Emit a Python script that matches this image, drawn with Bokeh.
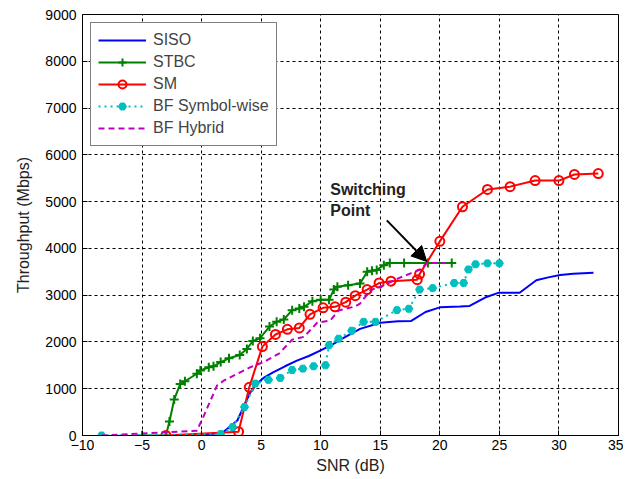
from bokeh.plotting import figure
from bokeh.models import (Range1d, FixedTicker, Arrow, NormalHead, Label, Legend)
from bokeh.embed import file_html
from bokeh.resources import INLINE

# ---- data ----
siso_x = [0, 1.8, 3.0, 3.7, 4.1, 4.6, 5.2, 6, 7, 8, 9, 10, 11, 12, 13.3, 15, 16.5,
          17.6, 18.8, 20, 21.7, 22.5, 23.8, 24.9, 26.7, 28.1, 29.1, 30.1, 31.2, 32.9]
siso_y = [0, 70, 320, 710, 930, 1100, 1230, 1350, 1480, 1600, 1700, 1820, 1950, 2100,
          2280, 2410, 2440, 2450, 2640, 2740, 2760, 2770, 2950, 3050, 3050, 3320,
          3380, 3430, 3460, 3480]

stbc_x = [-5, -3, -2.7, -2.3, -1.8, -1.4, -0.4, -0.1, 0.6, 1.0, 1.6, 2.3, 3.2, 3.8,
          4.3, 4.9, 5.7, 6.3, 6.9, 7.6, 8.2, 8.6, 9.3, 10, 10.7, 11.1, 11.4, 12.3,
          13.3, 13.9, 14.3, 14.7, 15.3, 15.8, 17, 19, 21]
stbc_y = [0, 0, 300, 770, 1100, 1160, 1320, 1390, 1460, 1480, 1570, 1650, 1720, 1850,
          2020, 2080, 2330, 2430, 2480, 2680, 2715, 2750, 2870, 2900, 2900, 3120,
          3180, 3210, 3250, 3500, 3520, 3540, 3640, 3690, 3690, 3690, 3690]

sm_x = [-3, 3.1, 4.0, 5.1, 6.2, 7.2, 8.2, 9.1, 10.2, 11.2, 12.1, 12.9, 13.9, 14.9,
        15.9, 18.1, 18.3, 20, 21.9, 24, 25.9, 28, 30, 31.3, 33.3]
sm_y = [0, 80, 1030, 1900, 2160, 2270, 2300, 2590, 2730, 2750, 2850, 2990, 3120, 3260,
        3300, 3330, 3450, 4150, 4890, 5260, 5320, 5450, 5450, 5580, 5600]

bfs_x = [-8.4, 1.6, 2.6, 3.6, 4.5, 5.6, 6.6, 7.6, 8.5, 9.4, 10.4, 10.7, 11.5, 12.6,
         13.6, 14.6, 16.4, 17.4, 18.3, 19.4, 21.2, 22.0, 22.4, 23.0, 24.0, 25.0]
bfs_y = [0, 30, 180, 610, 1110, 1190, 1230, 1400, 1430, 1480, 1500, 1930, 2070, 2240,
         2430, 2430, 2680, 2710, 3120, 3150, 3260, 3260, 3550, 3660, 3680, 3680]

bfh_x = [-8.4, -0.4, 0.2, 1.3, 1.9, 3.0, 4.1, 5.2, 6.5, 7.6, 8.6, 9.7, 10.8, 11.5,
         12.9, 13.3, 14.2, 15.3, 16.5, 17.5, 18.4, 18.9, 20.5]
bfh_y = [0, 100, 430, 1070, 1180, 1320, 1460, 1570, 1750, 2050, 2110, 2410, 2460,
         2670, 2760, 2820, 3110, 3210, 3360, 3460, 3550, 3690, 3690]

x_ticks = [-10, -5, 0, 5, 10, 15, 20, 25, 30, 35]
y_ticks = [0, 1000, 2000, 3000, 4000, 5000, 6000, 7000, 8000, 9000]

FONT = "Liberation Sans"

p = figure(width=623, height=477, output_backend="svg", toolbar_location=None,
           x_range=Range1d(-10, 35), y_range=Range1d(0, 9000),
           min_border_left=82, min_border_top=14, min_border_right=5,
           min_border_bottom=42)
p.outline_line_color = "black"
p.outline_line_width = 1

for ax in (p.xaxis[0], p.yaxis[0]):
    ax.major_tick_in = 5
    ax.major_tick_out = 0
    ax.minor_tick_line_color = None
    ax.axis_line_color = "black"
    ax.major_label_text_font = FONT
    ax.major_label_text_font_size = "14px"
    ax.major_label_text_color = "black"
    ax.axis_label_text_font = FONT
    ax.axis_label_text_font_size = "16px"
    ax.axis_label_text_font_style = "normal"
    ax.axis_label_text_color = "#222222"
p.xaxis.ticker = FixedTicker(ticks=x_ticks)
p.yaxis.ticker = FixedTicker(ticks=y_ticks)
p.xaxis.axis_label = "SNR (dB)"
p.yaxis.axis_label = "Throughput (Mbps)"
p.xaxis.major_label_standoff = 4
p.xaxis.axis_label_standoff = 4
p.yaxis.major_label_standoff = 6
p.yaxis.axis_label_standoff = 10

p.xgrid.ticker = FixedTicker(ticks=x_ticks)
p.ygrid.ticker = FixedTicker(ticks=y_ticks)
for g in (p.xgrid[0], p.ygrid[0]):
    g.grid_line_color = "black"
    g.grid_line_dash = "3 3"
    g.grid_line_width = 1

BLUE, GREEN, RED, CYAN, MAG = "#0000FF", "#008000", "#FF0000", "#00BFBF", "#BF00BF"

r_siso = p.line(siso_x, siso_y, line_color=BLUE, line_width=2)

r_stbc_l = p.line(stbc_x, stbc_y, line_color=GREEN, line_width=2)
r_stbc_m = p.scatter(stbc_x, stbc_y, marker="cross", size=9, line_color=GREEN,
                     line_width=2)

r_sm_l = p.line(sm_x, sm_y, line_color=RED, line_width=2)
r_sm_m = p.scatter(sm_x, sm_y, marker="circle", size=9, line_color=RED,
                   fill_color=None, line_width=2)

r_bfs_l = p.line(bfs_x, bfs_y, line_color=CYAN, line_width=2, line_dash="2 4")
r_bfs_m = p.scatter(bfs_x, bfs_y, marker="hex", size=8, line_color=CYAN,
                    fill_color=CYAN, line_width=1)

r_bfh = p.line(bfh_x, bfh_y, line_color=MAG, line_width=2, line_dash="6 4")

legend = Legend(items=[("SISO", [r_siso]),
                       ("STBC", [r_stbc_l, r_stbc_m]),
                       ("SM", [r_sm_l, r_sm_m]),
                       ("BF Symbol-wise", [r_bfs_l, r_bfs_m]),
                       ("BF Hybrid", [r_bfh])],
                location="top_left")
legend.label_text_font = FONT
legend.label_text_font_size = "16px"
legend.glyph_width = 48
legend.glyph_height = 20
legend.label_height = 20
legend.spacing = 2
legend.padding = 7
legend.margin = 8
legend.label_standoff = 7
legend.border_line_color = "black"
legend.border_line_width = 1
legend.background_fill_alpha = 1
p.add_layout(legend)

# annotation
p.add_layout(Arrow(end=NormalHead(size=15, fill_color="black", line_color="black"),
                   x_start=15.55, y_start=4600, x_end=18.9, y_end=3720,
                   line_color="black", line_width=2))
p.add_layout(Label(x=10.8, y=5430, text="Switching\nPoint", text_font=FONT,
                   text_font_size="16px", text_font_style="bold",
                   text_baseline="top", text_color="#222222"))

open("out.html", "w").write(file_html(p, INLINE))
